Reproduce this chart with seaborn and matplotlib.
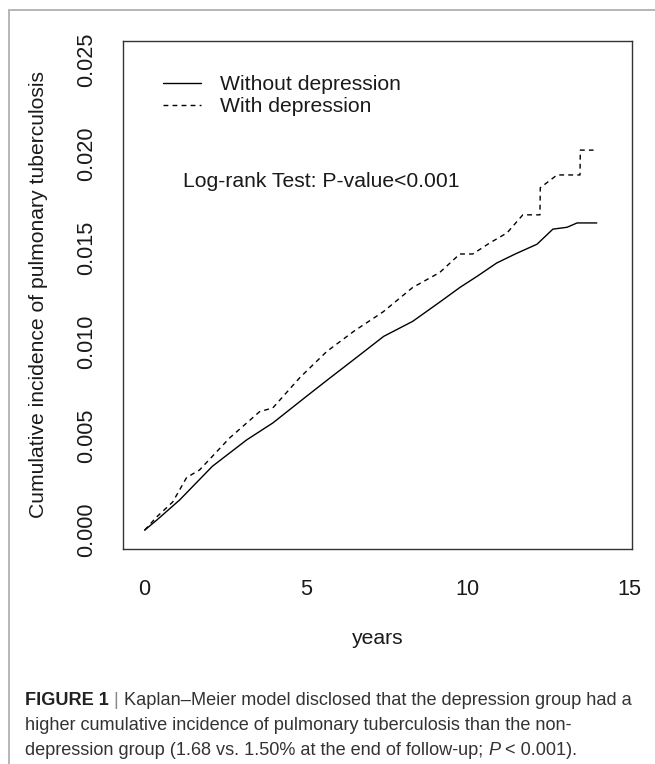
import numpy as np
import pandas as pd
import seaborn as sns
import matplotlib.pyplot as plt
from matplotlib.lines import Line2D

# curve values (years, cumulative incidence)
years_without = [0, 0.37, 1.08, 2.1, 3.16, 3.97, 5.0, 5.67, 6.5, 7.4, 8.3, 9.2,
                 9.76, 10.3, 10.9, 11.5, 12.15, 12.64, 13.08, 13.39, 14.0]
inc_without = [0, 0.00053, 0.0016, 0.0034, 0.0048, 0.0057, 0.0071, 0.0080, 0.0091,
               0.0103, 0.0111, 0.0122, 0.0129, 0.0135, 0.0142, 0.0147, 0.0152,
               0.0160, 0.0161, 0.01633, 0.01633]

years_with = [0, 0.37, 0.87, 1.3, 1.7, 2.63, 3.56, 3.97, 4.8, 5.64, 6.5, 7.38, 8.3,
              9.14, 9.76, 10.16, 10.69, 11.22, 11.71, 12.24, 12.25, 12.77, 13.48,
              13.49, 13.9]
inc_with = [0, 0.0007, 0.0015, 0.0028, 0.0032, 0.0049, 0.0063, 0.0065, 0.0081,
            0.0095, 0.0106, 0.0116, 0.0129, 0.0137, 0.01468, 0.01468, 0.01527,
            0.0158, 0.01676, 0.01676, 0.0182, 0.01888, 0.01888, 0.0202, 0.0202]

groups = ['Without depression', 'With depression']
x_ticks = [0, 5, 10, 15]
y_ticks = [0.000, 0.005, 0.010, 0.015, 0.020, 0.025]
y_tick_labels = ['0.000', '0.005', '0.010', '0.015', '0.020', '0.025']

km = pd.concat([
    pd.DataFrame({'years': years_without, 'incidence': inc_without, 'group': groups[0]}),
    pd.DataFrame({'years': years_with, 'incidence': inc_with, 'group': groups[1]}),
], ignore_index=True)

sns.set_style('white')
plt.rcParams['font.family'] = ['Liberation Sans', 'DejaVu Sans']

fig = plt.figure(figsize=(6.55, 7.64), dpi=100)
ax = fig.add_axes([123 / 655, 1 - 549 / 764, 509 / 655, 508 / 764])

sns.lineplot(data=km, x='years', y='incidence', hue='group', style='group',
             hue_order=groups, style_order=groups,
             palette={groups[0]: 'black', groups[1]: 'black'},
             dashes={groups[0]: '', groups[1]: (3.5, 3)},
             estimator=None, sort=False, linewidth=1.0, legend=False, ax=ax)

fs = 15.2
ax.set_xlim(-0.67, 15.09)
ax.set_ylim(-0.001, 0.026)
ax.set_xticks(x_ticks)
ax.set_xticklabels([str(t) for t in x_ticks])
ax.set_yticks(y_ticks)
ax.set_yticklabels(y_tick_labels, rotation=90, va='center')

for s in ax.spines.values():
    s.set_color('#333333')
    s.set_linewidth(1.0)
ax.tick_params(axis='both', direction='out', length=9, width=1.0, color='#333333',
               labelsize=15.6, labelcolor='#1a1a1a')
ax.tick_params(axis='x', pad=12.5)
ax.tick_params(axis='y', pad=9.5)

ax.set_xlabel('years', fontsize=fs, color='#1a1a1a')
ax.set_ylabel('Cumulative incidence of pulmonary tuberculosis', fontsize=fs, color='#1a1a1a')
ax.xaxis.set_label_coords(0.5, -0.158)
ax.yaxis.set_label_coords(-0.148, 0.5)

leg = ax.legend(ax.lines[:2], groups, loc='upper left', bbox_to_anchor=(0.0786, 0.933),
                frameon=False, fontsize=fs, handlelength=1.8, handletextpad=0.9,
                labelspacing=0.15, borderpad=0, borderaxespad=0)
for t in leg.get_texts():
    t.set_color('#1a1a1a')

ax.text(0.118, 0.724, 'Log-rank Test: P-value<0.001', transform=ax.transAxes,
        ha='left', va='center', fontsize=fs, color='#1a1a1a')

# page frame
fig.add_artist(Line2D([9 / 655, 1], [1 - 10 / 764, 1 - 10 / 764], color='#b5b5b5', lw=1.4))
fig.add_artist(Line2D([9 / 655, 9 / 655], [0, 1 - 10 / 764], color='#b5b5b5', lw=1.4))

# caption, pieces placed one after another
renderer = fig.canvas.get_renderer()
cap_size = 13.05
cap_color = '#333333'


def put(pieces, x_px, base_px):
    x = x_px
    for txt, kw in pieces:
        t = fig.text(x / 655, 1 - base_px / 764, txt, fontsize=cap_size, va='baseline',
                     ha='left', color=kw.get('color', cap_color),
                     fontweight=kw.get('weight', 'normal'), fontstyle=kw.get('style', 'normal'))
        x = t.get_window_extent(renderer).x1


put([('FIGURE 1', {'weight': 'bold', 'color': '#222222'}),
     (' | ', {'color': '#888888'}),
     ('Kaplan\u2013Meier model disclosed that the depression group had a', {})], 25, 705)
put([('higher cumulative incidence of pulmonary tuberculosis than the non-', {})], 25, 730)
put([('depression group (1.68 vs. 1.50% at the end of follow-up; ', {}),
     ('P', {'style': 'italic'}),
     (' < 0.001).', {})], 25, 755)

fig.savefig('out.png', dpi=100)
